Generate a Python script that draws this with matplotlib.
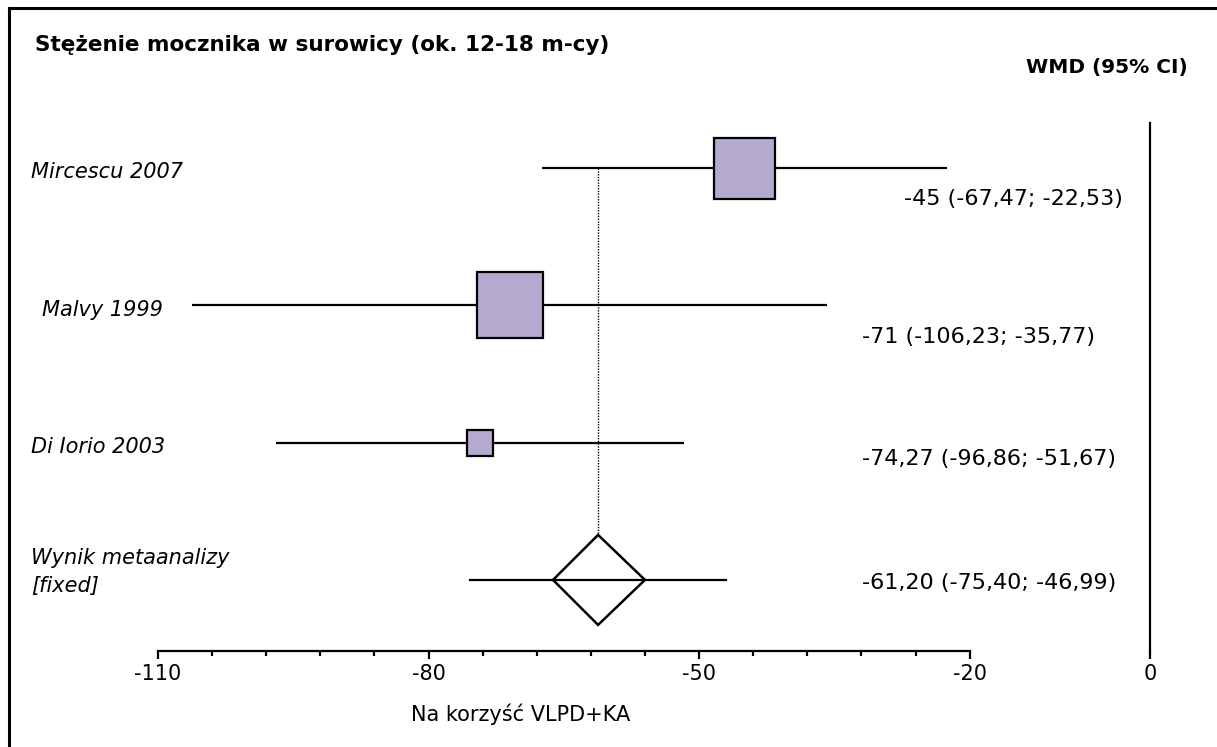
import matplotlib.pyplot as plt
from matplotlib.patches import Polygon
import numpy as np

# study data (WMD, 95% CI)
studies = ["Mircescu 2007", "Malvy 1999", "Di Iorio 2003"]
wmd = [-45.0, -71.0, -74.27]
ci_low = [-67.47, -106.23, -96.86]
ci_high = [-22.53, -35.77, -51.67]
ci_text = ["-45 (-67,47; -22,53)", "-71 (-106,23; -35,77)", "-74,27 (-96,86; -51,67)"]
box_px = [61, 67, 27]  # box side in pixels, as drawn

# pooled (fixed) result
pooled_label = "Wynik metaanalizy\n[fixed]"
pooled_wmd = -61.20
pooled_low = -75.40
pooled_high = -46.99
pooled_diamond = (-66.2, -56.0)
pooled_text = "-61,20 (-75,40; -46,99)"

major_ticks = [-110, -80, -50, -20, 0]
minor_ticks = [-104, -98, -92, -86, -74, -68, -62, -56, -44, -38, -32, -26]

W, H = 1217, 747
BOX = "#b4a9cf"
FS = 15

plt.rcParams['font.family'] = "DejaVu Sans"

fig = plt.figure(figsize=(W / 100, H / 100), dpi=100)
ax = fig.add_axes([0, 0, 1, 1])
ax.set_facecolor("none")

# pixel <-> data mapping: -110 at x=158px, 0 at x=1150px; rows every 137.3px from y=168
px_per_unit = (1150 - 158) / 110.0
x0 = -110 - 158 / px_per_unit
x1 = -110 + (W - 158) / px_per_unit
row_px = 137.3
ax.set_xlim(x0, x1)
ax.set_ylim((H - 168) / row_px, -168 / row_px)


def fpx(x, y):
    return x / W, 1 - y / H


rows = np.arange(len(studies))
pooled_row = len(studies)

# CI lines and boxes
for i in rows:
    ax.plot([ci_low[i], ci_high[i]], [i, i], color="black", lw=1.6, solid_capstyle="butt", zorder=2)
    ax.plot(wmd[i], i, marker="s", ms=box_px[i] * 0.72, mfc=BOX, mec="black", mew=1.6, zorder=3)

# pooled line + diamond
ax.plot([pooled_low, pooled_high], [pooled_row, pooled_row], color="black", lw=1.6, zorder=2)
dh = 45 / row_px
diamond = Polygon([[pooled_diamond[0], pooled_row], [pooled_wmd, pooled_row - dh],
                   [pooled_diamond[1], pooled_row], [pooled_wmd, pooled_row + dh]],
                  closed=True, facecolor="none", edgecolor="black", lw=1.8, zorder=3)
ax.add_patch(diamond)

# dotted line at pooled estimate
ax.plot([pooled_wmd, pooled_wmd], [0, pooled_row - dh], color="black", lw=1.0,
        linestyle=(0, (1, 1)), zorder=1)

# line of no effect
axis_y = (651 - 168) / row_px
ax.plot([0, 0], [(123 - 168) / row_px, axis_y], color="black", lw=1.6, zorder=1)

# x axis
for s in ["top", "right", "left"]:
    ax.spines[s].set_visible(False)
ax.spines["bottom"].set_position(("data", axis_y))
ax.spines["bottom"].set_bounds(-110, -20)
ax.spines["bottom"].set_linewidth(1.6)
ax.set_xticks(major_ticks)
ax.set_xticklabels([str(t) for t in major_ticks], fontsize=FS)
ax.set_xticks(minor_ticks, minor=True)
ax.tick_params(axis="x", which="major", direction="out", length=6, width=1.6, pad=3)
ax.tick_params(axis="x", which="minor", direction="out", length=3.6, width=1.6)
ax.set_yticks([])

fig.text(*fpx(521, 714), "Na korzyść VLPD+KA", ha="center", va="center", fontsize=FS)

# row labels
label_px = [(31, 172), (42, 310), (31, 447)]
for name, (lx, ly) in zip(studies, label_px):
    fig.text(*fpx(lx, ly), name, ha="left", va="center", fontsize=FS, style="italic")
fig.text(*fpx(31, 572), pooled_label, ha="left", va="center", fontsize=FS,
         style="italic", linespacing=1.55)

# effect text at right
text_px = [(904, 199), (862, 337), (862, 459)]
for t, (tx, ty) in zip(ci_text, text_px):
    fig.text(*fpx(tx, ty), t, ha="left", va="center", fontsize=16)
fig.text(*fpx(862, 583), pooled_text, ha="left", va="center", fontsize=16)

# headers
fig.text(*fpx(35, 45), "Stężenie mocznika w surowicy (ok. 12-18 m-cy)", ha="left", va="center",
         fontsize=15.5, fontweight="bold")
fig.text(*fpx(1188, 68), "WMD (95% CI)", ha="right", va="center", fontsize=14.5, fontweight="bold")

# frame (left + top only)
fig.add_artist(plt.Line2D([9 / W, 9 / W], [0, 1 - 8 / H], color="black", lw=2.2,
                          transform=fig.transFigure))
fig.add_artist(plt.Line2D([9 / W, 1], [1 - 8 / H, 1 - 8 / H], color="black", lw=2.2,
                          transform=fig.transFigure))

fig.savefig("out.png", dpi=100, facecolor="white")
